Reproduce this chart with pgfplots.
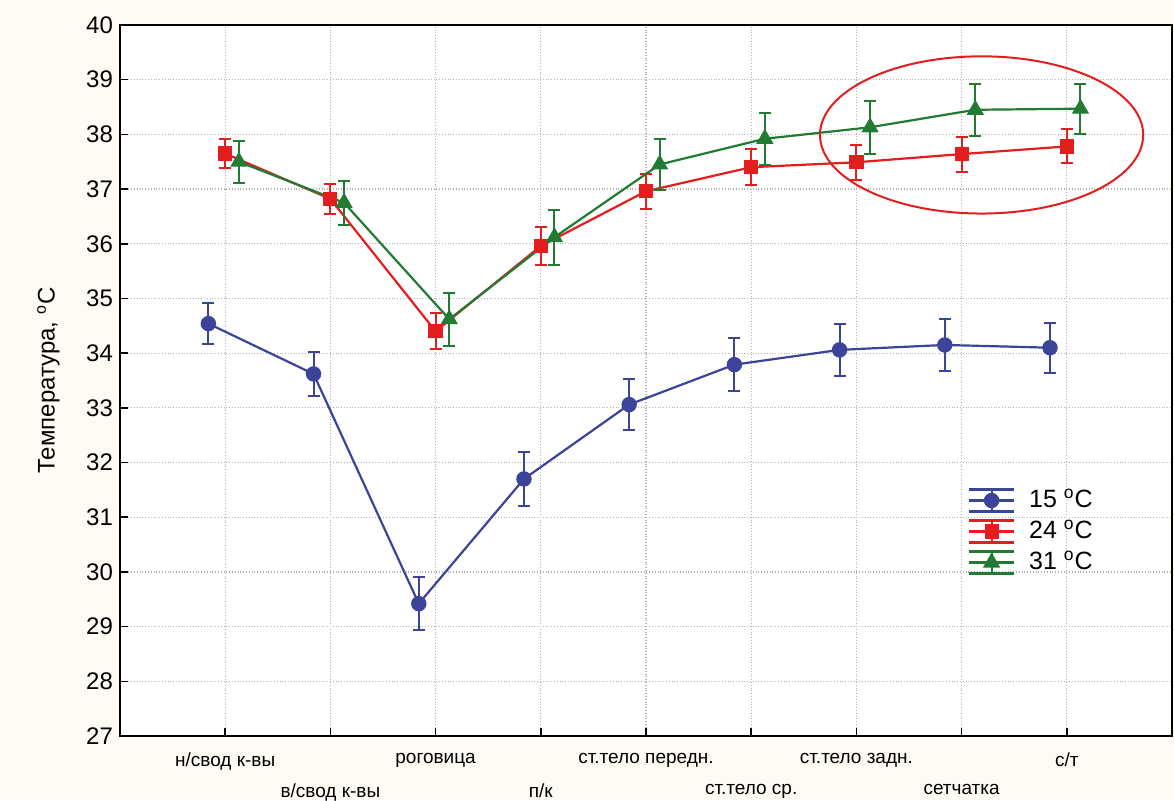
\documentclass[border=0pt]{standalone}
\usepackage{pgfplots}
\pgfplotsset{compat=1.18}
\usepackage{fontspec}
\setmainfont{Liberation Sans}
\definecolor{cblue}{RGB}{59,68,152}
\definecolor{cred}{RGB}{227,30,30}
\definecolor{cgreen}{RGB}{35,122,51}
\definecolor{cream}{RGB}{255,251,244}
\begin{document}
\begin{tikzpicture}
\fill[cream] (-60pt,-32pt) rectangle (527pt,368pt);
\path[use as bounding box] (-60pt,-32pt) rectangle (527pt,368pt);
\begin{axis}[at={(0,0)}, anchor=south west, scale only axis,
  width=526pt, height=355.5pt,
  xmin=0, xmax=10, ymin=27, ymax=40,
  axis background/.style={fill=white},
  axis line style={line width=1pt},
  ytick={27,28,...,40},
  xtick={1,3,5,7,9},
  xticklabels={н/свод к-вы, роговица, ст.тело передн., ст.тело задн., с/т},
  extra x ticks={2,4,6,8},
  extra x tick labels={в/свод к-вы, п/к, ст.тело ср., сетчатка},
  extra x tick style={grid=major, xticklabel style={yshift=-15.5pt}},
  xticklabel style={font=\fontsize{9.5}{11}\selectfont, yshift=-5pt},
  yticklabel style={font=\fontsize{12}{14}\selectfont},
  /pgf/number format/assume math mode=true,
  grid=major,
  major grid style={densely dotted, black!30, line width=0.6pt},
  tick align=inside, tick pos=left, major tick length=4pt,
  tick style={black, line width=0.8pt},
  ylabel={Температура, \textsuperscript{o}C},
  ylabel style={font=\fontsize{12}{14}\selectfont, at={(axis description cs:-0.068,0.5)}, anchor=center},
  legend style={at={(axis description cs:0.8,0.336)}, anchor=north west, yshift=8pt,
    draw=none, fill=none, font=\fontsize{12.5}{14}\selectfont, row sep=0.5pt,
    nodes={inner sep=2pt, text height=9pt, text depth=2pt}},
  legend cell align=left,
  legend image code/.code={
    \draw[#1] (0pt,0pt) -- (22.5pt,0pt);
    \draw[#1] (0pt,5.5pt) -- (22.5pt,5.5pt);
    \draw[#1] (0pt,-5.5pt) -- (22.5pt,-5.5pt);
    \draw[#1] (11.25pt,-5.5pt) -- (11.25pt,5.5pt);
    \draw[#1, only marks] plot coordinates {(11.25pt,0pt)};
  },
]
\addplot[color=cblue, line width=1.1pt, mark=*, mark size=3.3pt, mark options={solid, fill=cblue},
  error bars/.cd, y dir=both, y explicit,
  error bar style={line width=1pt, cblue},
  error mark options={rotate=90, mark size=3pt, line width=1pt, cblue}]
  coordinates {
  (0.84,34.54) +- (0,0.38)
  (1.84,33.62) +- (0,0.40)
  (2.84,29.42) +- (0,0.49)
  (3.84,31.70) +- (0,0.50)
  (4.84,33.06) +- (0,0.47)
  (5.84,33.79) +- (0,0.48)
  (6.84,34.06) +- (0,0.48)
  (7.84,34.15) +- (0,0.48)
  (8.84,34.10) +- (0,0.46)
  };
\addlegendentry{\hspace*{5pt}15 \textsuperscript{o}C}
\addplot[color=cred, line width=1.1pt, mark=square*, mark size=3pt, mark options={solid, fill=cred},
  error bars/.cd, y dir=both, y explicit,
  error bar style={line width=1pt, cred},
  error mark options={rotate=90, mark size=3pt, line width=1pt, cred}]
  coordinates {
  (1,37.65) +- (0,0.26)
  (2,36.82) +- (0,0.27)
  (3,34.40) +- (0,0.33)
  (4,35.96) +- (0,0.34)
  (5,36.96) +- (0,0.32)
  (6,37.40) +- (0,0.33)
  (7,37.49) +- (0,0.32)
  (8,37.64) +- (0,0.32)
  (9,37.78) +- (0,0.31)
  };
\addlegendentry{\hspace*{5pt}24 \textsuperscript{o}C}
\addplot[color=cgreen, line width=1.1pt, mark=triangle*, mark size=3.9pt, mark options={solid, fill=cgreen},
  error bars/.cd, y dir=both, y explicit,
  error bar style={line width=1pt, cgreen},
  error mark options={rotate=90, mark size=3pt, line width=1pt, cgreen}]
  coordinates {
  (1.13,37.50) +- (0,0.38)
  (2.13,36.75) +- (0,0.40)
  (3.13,34.62) +- (0,0.48)
  (4.13,36.12) +- (0,0.50)
  (5.13,37.45) +- (0,0.47)
  (6.13,37.92) +- (0,0.48)
  (7.13,38.13) +- (0,0.48)
  (8.13,38.45) +- (0,0.48)
  (9.13,38.47) +- (0,0.46)
  };
\addlegendentry{\hspace*{5pt}31 \textsuperscript{o}C}
\draw[cred, line width=1pt] (axis cs:8.19,37.99) ellipse [x radius=80.8pt, y radius=39.3pt];
\end{axis}
\end{tikzpicture}
\end{document}
